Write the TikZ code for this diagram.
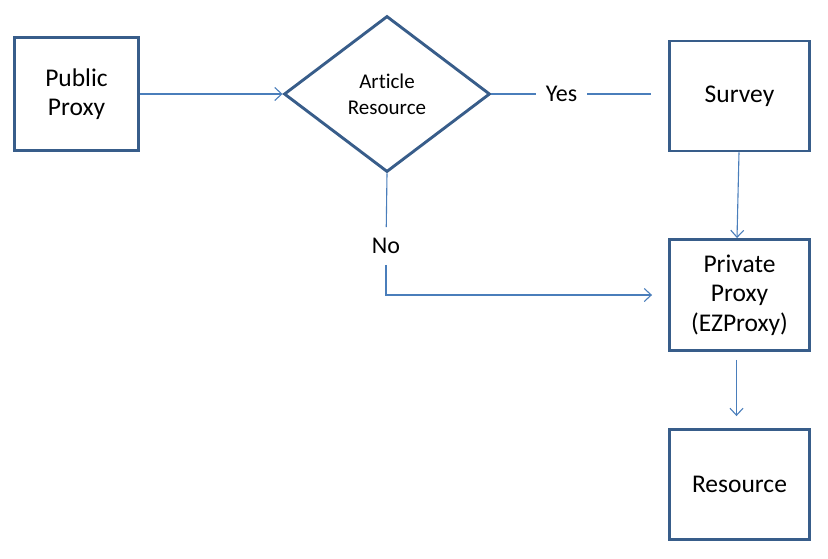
\documentclass[tikz,border=0pt]{standalone}
\usepackage{fontspec}
\setmainfont{Carlito}[Ligatures={NoCommon}]
\usetikzlibrary{shapes.geometric,arrows.meta}
\definecolor{boxblue}{HTML}{385D8A}
\definecolor{lineblue}{HTML}{4A7EBB}
\begin{document}
\begin{tikzpicture}[x=1pt,y=-1pt,>={Straight Barb[length=7pt,width=13pt]},
  box/.style={draw=boxblue,line width=2.9pt,minimum width=140pt,minimum height=110pt,
    align=center,font=\fontsize{25.5}{29.5}\selectfont},
  decision/.style={diamond,draw=boxblue,line width=2.9pt,minimum width=206pt,
    minimum height=156pt,inner sep=0pt,align=center,font=\fontsize{21}{26}\selectfont},
  lbl/.style={font=\fontsize{24}{28}\selectfont,inner xsep=10pt,inner ysep=11pt},
  conn/.style={draw=lineblue,line width=1.1pt}]
\useasboundingbox (0,0) rectangle (828,558);

\node[box,minimum width=124pt,minimum height=113pt](pub) at (76.5,94){Public\\Proxy};
\node[decision](art) at (387,94){Article\\Resource};
\node[box](sv) at (739.5,96){Survey};
\node[box,minimum height=111pt](pp) at (739.5,295){Private\\Proxy\\(EZProxy)};
\node[box](rs) at (739.5,484.5){Resource};

\node[lbl](yes) at (561.5,94){Yes};
\node[lbl](no) at (386,246){No};

\draw[conn,->](pub)--(art);
\draw[conn](art.east)--(yes);
\draw[conn,shorten >=17pt](yes)--(sv.west |- yes);
\draw[conn,->]([xshift=-0.5pt]sv.south)--([xshift=-2.5pt]pp.north);
\draw[conn](art.south)--(no);
\draw[conn,->,shorten >=16pt](no)|-(pp.west);
\draw[conn,->,shorten <=8pt,shorten >=12pt]([xshift=-3pt]pp.south)--([xshift=-3pt]rs.north);
\end{tikzpicture}
\end{document}
